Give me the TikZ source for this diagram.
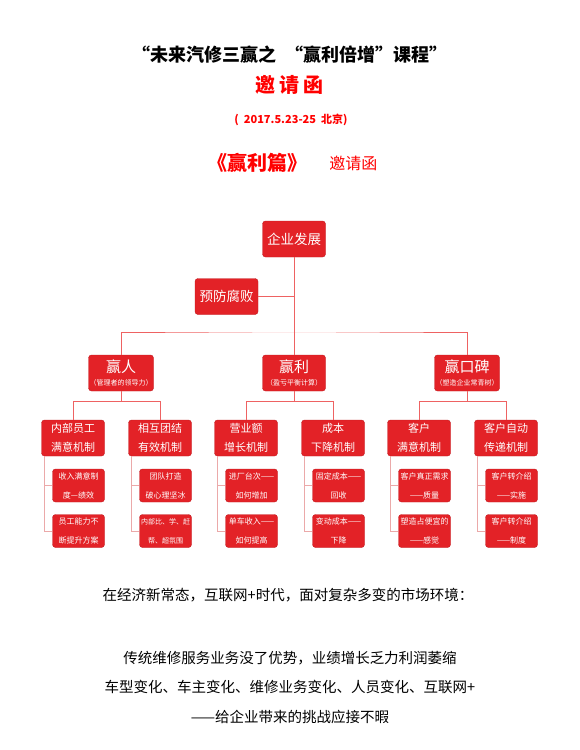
\documentclass[tikz,border=0pt]{standalone}
\usepackage{fontspec}
\setmainfont{Noto Sans CJK SC}
\usepackage{xcolor}
\usepackage{tikz}
\usetikzlibrary{positioning}
\definecolor{boxred}{HTML}{E32227}
\definecolor{linkred}{HTML}{EE6262}
\definecolor{subred}{HTML}{EBA9A9}
\tikzstyle{rootbox} = [rectangle, rounded corners=3pt, minimum width=63pt, minimum height=36pt, text centered, draw=boxred!85!black, fill=boxred, text=white, inner sep=1pt, font=\fontsize{13.5}{15}\selectfont]
\tikzstyle{winbox} = [rectangle, rounded corners=3pt, minimum width=63pt, minimum height=36pt, align=center, draw=boxred!85!black, fill=boxred, text=white, inner sep=1pt, font=\fontsize{15}{15}\selectfont]
\tikzstyle{mechbox} = [rectangle, rounded corners=3pt, minimum width=63pt, minimum height=36pt, align=center, draw=boxred!85!black, fill=boxred, text=white, inner sep=1pt, font=\fontsize{11}{19}\selectfont]
\tikzstyle{itembox} = [rectangle, rounded corners=3pt, minimum width=52pt, minimum height=33pt, align=center, draw=boxred!85!black, fill=boxred, text=white, inner sep=1pt, font=\fontsize{8}{19}\selectfont]
\tikzstyle{link} = [thin, color=linkred]
\tikzstyle{sublink} = [thin, color=subred]
\tikzstyle{plain} = [inner sep=0pt, font=\fontsize{14.5}{16}\selectfont]

\begin{document}
\begin{tikzpicture}[x=1pt, y=-1pt, node distance=60pt]
        \useasboundingbox (0,0) rectangle (580,750);

        % Heading
        \node (title) [inner sep=0pt, font=\fontsize{18}{20}\selectfont\bfseries] at (290,55) {“未来汽修三赢之\ \ “赢利倍增”课程”};
        \node (invite) [inner sep=0pt, text=red, font=\fontsize{20}{22}\selectfont\bfseries] at (289,85) {邀\hspace{4pt}请\hspace{4pt}函};
        \node (date) [inner sep=0pt, text=red, font=\fontsize{11}{12}\selectfont\bfseries] at (291,120) {(\ \ 2017.5.23-25\ \ 北京)};
        \node (part) [inner sep=0pt, text=red, font=\fontsize{20}{22}\selectfont\bfseries] at (257,163) {《赢利篇》};
        \node (letter) [inner sep=0pt, text=red, font=\fontsize{16}{18}\selectfont, right=22pt of part] {邀请函};

        % Top Layer
        \node (top) [rootbox] at (294,239) {企业发展};
        \node (guard) [rootbox, below of=top, node distance=57.5pt, xshift=-67.5pt] {预防腐败};

        % Win Layer
        \node (win2) [winbox, below of=top, node distance=134pt] {赢利\\[-2pt]{\fontsize{7}{8}\selectfont （盈亏平衡计算）}};
        \node (win1) [winbox, left of=win2, node distance=173pt] {赢人\\[-2pt]{\fontsize{7}{8}\selectfont （管理者的领导力）}};
        \node (win3) [winbox, right of=win2, node distance=173pt] {赢口碑\\[-2pt]{\fontsize{7}{8}\selectfont （塑造企业常青树）}};

        % Mechanism Layer
        \node (a1) [mechbox, below of=win1, node distance=65pt, xshift=-48pt] {内部员工\\满意机制};
        \node (a2) [mechbox, below of=win1, node distance=65pt, xshift=39pt] {相互团结\\有效机制};
        \node (b1) [mechbox, below of=win2, node distance=65pt, xshift=-48pt] {营业额\\增长机制};
        \node (b2) [mechbox, below of=win2, node distance=65pt, xshift=39pt] {成本\\下降机制};
        \node (c1) [mechbox, below of=win3, node distance=65pt, xshift=-48pt] {客户\\满意机制};
        \node (c2) [mechbox, below of=win3, node distance=65pt, xshift=39pt] {客户自动\\传递机制};

        % Item Layer
        \node (a11) [itembox, below of=a1, node distance=47.5pt, xshift=5.5pt] {收入满意制\\度—绩效};
        \node (a12) [itembox, below of=a11, node distance=45.5pt] {员工能力不\\断提升方案};
        \node (a21) [itembox, below of=a2, node distance=47.5pt, xshift=5.5pt] {团队打造\\破心理坚冰};
        \node (a22) [itembox, below of=a21, node distance=45.5pt, font=\fontsize{7}{19}\selectfont] {内部比、学、赶\\帮、超氛围};
        \node (b11) [itembox, below of=b1, node distance=47.5pt, xshift=5.5pt] {进厂台次——\\如何增加};
        \node (b12) [itembox, below of=b11, node distance=45.5pt] {单车收入——\\如何提高};
        \node (b21) [itembox, below of=b2, node distance=47.5pt, xshift=5.5pt] {固定成本——\\回收};
        \node (b22) [itembox, below of=b21, node distance=45.5pt] {变动成本——\\下降};
        \node (c11) [itembox, below of=c1, node distance=47.5pt, xshift=5.5pt] {客户真正需求\\——质量};
        \node (c12) [itembox, below of=c11, node distance=45.5pt] {塑造占便宜的\\——感觉};
        \node (c21) [itembox, below of=c2, node distance=47.5pt, xshift=5.5pt] {客户转介绍\\——实施};
        \node (c22) [itembox, below of=c21, node distance=45.5pt] {客户转介绍\\——制度};

        % Closing text
        \node (env) [plain] at (288,595) {在经济新常态，互联网+时代，面对复杂多变的市场环境：};
        \node (line1) [plain] at (290,658) {传统维修服务业务没了优势，业绩增长乏力利润萎缩};
        \node (line2) [plain] at (290,687) {车型变化、车主变化、维修业务变化、人员变化、互联网+};
        \node (line3) [plain] at (290,717) {——给企业带来的挑战应接不暇};

        % Connections
        \coordinate (bus) at ([yshift=23pt]win2.north);
        \draw [link] (top.south) -- (win2.north);
        \draw [link] (guard.east) -- (guard.east -| top.south);
        \draw [link] (win1.north) |- (bus) -| (win3.north);

        \coordinate (bus1) at ([yshift=-10pt]win1.south);
        \coordinate (bus2) at ([yshift=-10pt]win2.south);
        \coordinate (bus3) at ([yshift=-10pt]win3.south);
        \draw [link] (win1.south) -- (bus1);
        \draw [link] (win2.south) -- (bus2);
        \draw [link] (win3.south) -- (bus3);
        \draw [link] (a1.north) |- (bus1) -| (a2.north);
        \draw [link] (b1.north) |- (bus2) -| (b2.north);
        \draw [link] (c1.north) |- (bus3) -| (c2.north);

        \foreach \m in {a1,a2,b1,b2,c1,c2} {
            \draw [sublink] ([xshift=3pt]\m.south west) |- (\m1.west);
            \draw [sublink] ([xshift=3pt]\m.south west) |- (\m2.west);
        }
    \end{tikzpicture}
\end{document}
